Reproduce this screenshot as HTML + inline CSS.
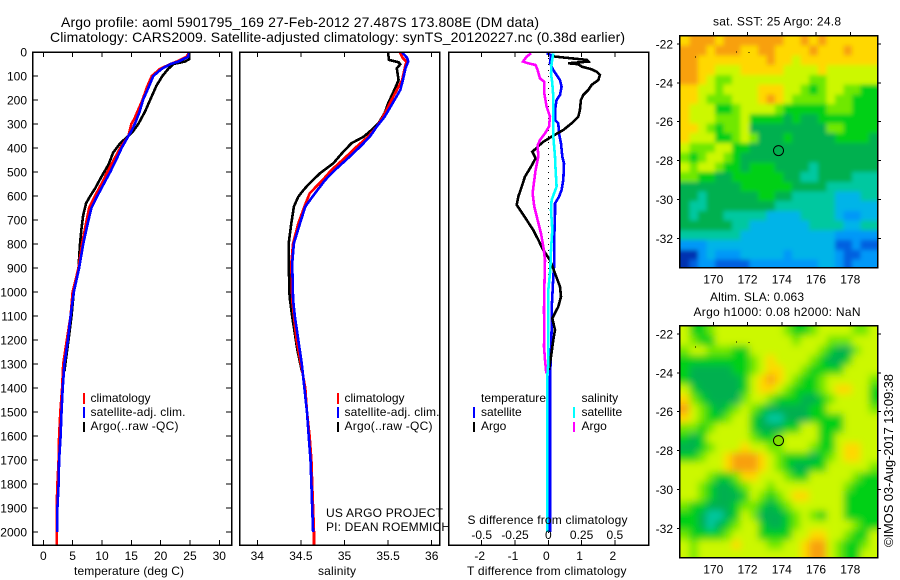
<!DOCTYPE html>
<html>
<head>
<meta charset="utf-8">
<title>Argo profile</title>
<style>
html,body{margin:0;padding:0;background:#fff;width:900px;height:580px;overflow:hidden}
svg{display:block}
text{font-family:"Liberation Sans",sans-serif;font-size:12px;fill:#000}
.t{font-size:14px}
.fr{fill:none;stroke:#000;stroke-width:1.5;shape-rendering:crispEdges}
.ln{fill:none;stroke-linejoin:miter;shape-rendering:crispEdges}
</style>
</head>
<body>
<svg id="fig" xmlns="http://www.w3.org/2000/svg" width="900" height="580" viewBox="0 0 900 580">
<defs>
<clipPath id="c1"><rect x="680" y="35" width="197" height="232"/></clipPath>
<clipPath id="c2"><rect x="680" y="325" width="197" height="232"/></clipPath>
<filter id="sm1" x="-10%" y="-10%" width="120%" height="120%"><feGaussianBlur stdDeviation="2"/></filter>
<filter id="sm2" x="-10%" y="-10%" width="120%" height="120%"><feGaussianBlur stdDeviation="3.6"/></filter>
</defs>
<text class="t" x="61" y="27" textLength="478">Argo profile: aoml 5901795_169 27-Feb-2012 27.487S 173.808E (DM data)</text>
<text class="t" x="50" y="42" textLength="575">Climatology: CARS2009. Satellite-adjusted climatology: synTS_20120227.nc (0.38d earlier)</text>

<g id="p1"></g>
<g id="p2"></g>
<g id="p3"></g>
<g clip-path="url(#c1)"><g id="m1" filter="url(#sm1)"></g></g>
<g clip-path="url(#c2)"><g id="m2" filter="url(#sm2)"></g></g>
<g id="mo"></g>

<rect class="fr" x="32.5" y="52" width="199" height="493"/>
<rect class="fr" x="239.5" y="52" width="200" height="493"/>
<rect class="fr" x="448.5" y="52" width="200" height="493"/>
<rect class="fr" x="679.5" y="35.5" width="198" height="232"/>
<rect class="fr" x="679.5" y="325.5" width="198" height="232"/>

<text x="74" y="575" textLength="110">temperature (deg C)</text>
<text x="318" y="575" textLength="38">salinity</text>
<text x="467.5" y="524" textLength="160">S difference from climatology</text>
<text x="467" y="575" textLength="159.500">T difference from climatology</text>

<g>
<rect x="83" y="393" width="2" height="11" fill="#f00"/>
<rect x="83" y="407" width="2" height="11" fill="#00f"/>
<rect x="83" y="422" width="2" height="10" fill="#000"/>
<text x="90.500" y="402">climatology</text>
<text x="90.500" y="416" textLength="95">satellite-adj. clim.</text>
<text x="90.500" y="430" textLength="88">Argo(..raw -QC)</text>
</g>
<g>
<rect x="337" y="393" width="2" height="11" fill="#f00"/>
<rect x="337" y="407" width="2" height="11" fill="#00f"/>
<rect x="337" y="422" width="2" height="10" fill="#000"/>
<text x="344.500" y="402">climatology</text>
<text x="344.500" y="416" textLength="95">satellite-adj. clim.</text>
<text x="344.500" y="430" textLength="88">Argo(..raw -QC)</text>
</g>
<g>
<text x="481" y="402" textLength="65">temperature</text>
<text x="581.500" y="402">salinity</text>
<rect x="473" y="407" width="2" height="11" fill="#00f"/>
<rect x="473" y="422" width="2" height="10" fill="#000"/>
<rect x="573" y="407" width="2" height="11" fill="#0ff"/>
<rect x="573" y="422" width="2" height="10" fill="#f0f"/>
<text x="481" y="416">satellite</text>
<text x="481" y="430">Argo</text>
<text x="581.500" y="416">satellite</text>
<text x="581.500" y="430">Argo</text>
</g>
<text x="326" y="517" textLength="117">US ARGO PROJECT</text>
<text x="326" y="531" textLength="124">PI: DEAN ROEMMICH</text>
<text x="713" y="25.500" textLength="128">sat. SST: 25 Argo: 24.8</text>
<text x="710" y="301" textLength="94">Altim. SLA: 0.063</text>
<text x="693.500" y="316" textLength="167">Argo h1000: 0.08 h2000: NaN</text>
<text style="font-size:13px" transform="translate(893,547) rotate(-90)" textLength="173">©IMOS 03-Aug-2017 13:09:38</text>
</svg>
<script>
// ---------- temperature profile data ----------
const argoTempDepth=[0,30,40,50,70,100,140,200,250,300,330,350,380,420,470,520,570,600,630,680,740,800,900,1000,1100,1200,1300,1330];
const argoTemp=[24.9,24.9,24.1,22.2,21.3,20.3,19.3,18.2,17.3,16.2,15.3,14.5,13.1,11.9,11.1,9.9,8.8,8,7.3,6.8,6.5,6.25,6,5.2,4.8,4.3,3.75,3.6];
const climTempDepth=[0,20,40,50,70,100,150,200,250,280,300,320,350,400,450,500,550,600,650,700,800,900,1000,1100,1200,1300,1400,1500,1600,1700,1800,1900,2054];
const climTemp=[24.9,24.4,22.7,21.7,19.9,18.5,17.6,16.9,16,15.5,15,14.8,14.5,13.1,12,10.9,9.9,8.8,7.8,7.4,6.6,6,5,4.66,4,3.4,3.2,2.9,2.7,2.6,2.4,2.27,2.27];
const satTempDepth=[0,20,40,50,70,100,150,200,250,300,330,350,400,450,500,550,600,650,700,800,900,1000,1100,1200,1300,1400,1500,1600,1700,1800,1900,2000];
const satTemp=[24.9,24.7,23,21.7,20.2,18.75,17.9,17,16.4,15.6,15,14.5,13.35,12.4,11.4,10.3,9.2,8.2,7.7,6.8,6.1,5.2,4.66,4.2,3.6,3.3,3.1,2.95,2.7,2.6,2.4,2.4];
// ---------- salinity profile data ----------
const argoSalDepth=[0,5,33,43,51,68,117,151,214,255,297,325,353,380,422,464,505,547,575,603,644,714,797,880,1019,1103,1172,1242,1311,1330];
const argoSal=[35.5,35.5,35.51,35.62,35.64,35.6,35.62,35.58,35.5,35.46,35.39,35.31,35.22,35.08,34.97,34.87,34.72,34.6,34.53,34.47,34.42,34.39,34.36,34.36,34.37,34.4,34.43,34.46,34.5,34.51];
const climSalDepth=[0,5,26,40,68,117,158,214,270,311,353,394,436,492,533,589,644,714,797,880,1033,1100,1200,1300,1400,1500,1600,1700,1800,1900,2000,2054];
const climSal=[35.64,35.64,35.67,35.71,35.69,35.66,35.6,35.52,35.44,35.37,35.27,35.14,35.02,34.85,34.75,34.6,34.54,34.47,34.41,34.39,34.4,34.42,34.45,34.5,34.55,34.57,34.6,34.62,34.63,34.64,34.65,34.65];
const satSalDepth=[0,5,26,40,68,117,158,214,270,311,353,394,436,492,533,589,644,714,797,880,1033,1100,1200,1300,1400,1500,1600,1700,1800,1900,2000];
const satSal=[35.67,35.67,35.72,35.73,35.7,35.67,35.64,35.55,35.46,35.37,35.29,35.18,35.06,34.89,34.78,34.66,34.55,34.49,34.42,34.4,34.41,34.43,34.47,34.51,34.54,34.57,34.59,34.61,34.62,34.63,34.64];
// ---------- difference data ----------
const argoDTDepth=[12,19,33,40,47,51,61,72,82,96,117,137,158,179,200,242,269,297,325,353,374,392,406,415,443,478,519,561,603,637,658,700,742,783,825,867,922,978,1019,1061,1110,1158,1200,1269,1325];
const argoDT=[0.1,0.2,1.15,1.2,0.6,0.9,1,1.3,1.45,1.55,1.5,1.3,1.2,1.05,0.98,0.95,0.9,0.7,0.45,0.1,-0.15,-0.3,-0.4,-0.48,-0.38,-0.52,-0.7,-0.8,-0.9,-0.95,-0.85,-0.65,-0.45,-0.3,-0.15,0.05,0.2,0.35,0.38,0.3,0.12,0.2,0.15,0.08,0.02];
const satDTDepth=[6,12,47,75,96,117,144,179,200,242,283,297,339,381,436,464,533,575,603,631,672,769,881,936,1019,1075,1158,1297,1353,2000];
const satDT=[-0.05,0.08,0.05,0.15,0.25,0.35,0.4,0.35,0.25,0.2,0.2,0.3,0.32,0.38,0.42,0.47,0.45,0.4,0.32,0.2,0.2,0.18,0.18,0.15,0.12,0.1,0.1,0.07,0.05,0.05];
const argoDSDepth=[6,19,40,47,54,75,110,124,172,228,269,311,339,367,388,436,492,533,589,644,700,756,811,867,992,1075,1158,1228,1283,1339];
const argoDS=[-0.13,-0.1625,-0.19,-0.15,-0.095,-0.08,-0.0625,-0.03,-0.03,-0.0125,0.0125,0.005,-0.025,-0.0625,-0.08,-0.075,-0.095,-0.105,-0.1175,-0.105,-0.08,-0.055,-0.0375,-0.025,-0.03,-0.0325,-0.03,-0.0325,-0.025,-0.015];
const satDSDepth=[6,47,89,131,186,269,353,436,492,561,617,658,742,825,908,992,1103,1297,1353,2000];
const satDS=[0.0375,0.025,0.02,0.03,0.0375,0.0375,0.0375,0.05,0.055,0.0625,0.025,0.02,0.03,0.02,0.015,0,0,0,-0.0075,-0.0075];
// ---------- tick labels ----------
const depthTicks=[0,100,200,300,400,500,600,700,800,900,1000,1100,1200,1300,1400,1500,1600,1700,1800,1900,2000];
const tempTicks=[0,5,10,15,20,25,30];
const salTicks=[34,34.5,35,35.5,36];
const dTTicks=[-2,-1,0,1,2];
const dSTicks=[-0.5,-0.25,0,0.25,0.5];
const lonTicks=[170,172,174,176,178];
const latTicks=[-22,-24,-26,-28,-30,-32];
// ---------- map data: colour-level per 0.5 degree cell ----------
const sstGrid=[
[9,10,10,10,9,10,10,10,10,10,10,10,9,9,10,9,10,9,9,9,9,9,9],
[10,10,10,9,10,10,10,9,9,10,10,9,9,9,9,10,9,9,9,10,9,9,9],
[10,10,9,9,9,9,9,9,9,9,10,9,9,8,9,9,9,9,9,9,9,9,9],
[10,10,9,9,8,8,8,9,9,9,9,9,8,8,8,8,9,8,8,8,8,8,8],
[10,10,9,8,7,7,8,8,8,8,8,8,8,8,8,7,7,8,8,8,8,8,8],
[9,9,8,8,7,8,8,8,8,9,9,9,8,8,7,6,7,8,8,7,7,6,6],
[9,9,8,7,7,7,8,8,8,9,10,9,8,7,7,7,7,8,7,7,6,6,6],
[9,8,8,8,6,6,7,8,8,8,8,7,6,6,6,6,6,7,7,7,6,6,6],
[9,8,8,8,7,7,7,8,6,6,6,6,5,6,5,5,6,6,6,6,6,6,6],
[9,9,8,7,6,7,7,8,5,5,5,5,5,5,5,5,5,7,7,6,6,6,6],
[9,8,8,8,6,6,7,8,7,5,5,5,6,5,5,5,5,5,6,6,6,6,5],
[8,7,7,7,8,8,6,6,5,5,5,5,5,5,5,5,5,5,5,5,5,5,5],
[7,6,7,8,8,7,6,5,5,5,5,5,5,5,5,5,5,5,5,5,5,5,5],
[8,7,8,8,7,6,6,5,6,6,6,5,5,5,5,4,5,5,5,5,5,5,5],
[7,7,6,6,5,5,6,6,6,6,6,6,5,5,4,4,5,5,5,5,4,4,4],
[5,5,5,5,5,5,5,6,6,6,6,6,6,5,5,5,5,4,4,4,4,4,4],
[5,5,4,5,5,5,5,5,5,6,6,5,5,4,4,4,4,4,3,3,3,4,4],
[5,4,4,5,5,5,5,5,5,5,5,4,4,4,4,4,4,4,3,3,3,3,3],
[5,4,5,5,5,4,4,4,4,4,3,3,3,3,4,4,4,4,3,2,2,3,3],
[5,5,5,5,5,5,4,4,3,3,3,3,3,3,3,4,4,4,4,3,3,4,4],
[4,4,4,4,4,4,4,3,3,3,3,3,3,3,3,3,3,3,2,2,2,2,2],
[2,2,2,3,3,3,3,3,3,3,3,3,3,3,3,3,3,3,1,1,2,1,1],
[0,0,2,3,2,2,2,3,3,3,3,3,2,3,3,3,3,3,2,1,1,2,2],
[0,1,2,2,1,1,1,1,2,2,2,2,2,2,2,2,3,3,2,1,2,2,2]];
const slaGrid=[
[8,6,6,7,8,8,8,8,8,8,8,8,7,6,6,7,8,8,8,8,7,7,8],
[8,7,6,6,8,8,8,8,8,8,8,8,8,7,8,8,8,7,7,7,8,8,8],
[7,8,8,7,7,7,6,6,8,8,8,8,8,8,8,8,7,6,5,5,7,8,8],
[6,6,6,6,6,6,6,6,7,8,9,8,8,8,8,7,6,5,5,6,8,8,8],
[6,5,5,5,5,5,6,6,7,8,9,9,8,8,7,6,6,6,6,8,8,8,8],
[6,5,5,5,5,5,5,6,8,9,10,9,8,7,6,6,7,8,8,8,8,8,7],
[8,6,5,5,5,5,5,6,8,9,9,8,7,6,6,6,7,8,9,9,8,8,6],
[9,7,6,5,5,5,5,7,8,8,7,6,6,6,5,5,6,7,8,8,8,8,6],
[10,8,7,6,5,6,7,8,7,6,5,5,5,5,5,6,6,8,8,8,8,8,7],
[9,8,7,6,6,7,8,8,6,5,4,4,5,5,5,6,6,6,6,8,8,8,8],
[7,7,6,7,8,8,8,8,6,5,5,5,6,6,8,8,6,6,6,8,8,8,8],
[6,5,6,8,8,8,8,8,7,6,6,7,8,8,8,8,6,6,8,8,8,8,8],
[5,5,6,7,8,8,8,9,8,8,7,7,8,8,8,7,6,6,8,9,9,8,8],
[6,6,7,8,8,9,10,10,10,9,8,7,6,6,6,5,6,7,8,9,9,8,8],
[8,8,8,8,8,9,10,10,10,9,8,7,6,5,5,6,6,8,8,8,8,8,7],
[8,8,8,7,6,6,7,9,9,8,8,8,7,6,6,8,8,8,8,8,7,6,6],
[8,8,7,6,5,5,6,7,8,8,7,8,8,8,8,8,8,8,8,7,6,6,6],
[8,8,7,6,5,5,5,6,8,7,6,7,8,9,9,8,8,8,8,6,6,6,6],
[7,6,6,5,5,5,6,7,7,6,5,6,7,8,8,8,8,8,8,6,6,6,6],
[6,6,5,4,4,5,6,8,7,5,5,5,6,7,8,7,6,8,8,6,6,6,6],
[6,6,5,4,5,6,7,8,8,6,5,5,6,7,8,8,8,8,8,8,7,6,6],
[7,6,6,6,6,7,8,8,8,6,6,6,6,8,8,9,9,8,8,7,6,6,8],
[8,7,8,8,8,8,9,8,8,8,7,7,8,8,9,10,10,8,7,6,6,7,8],
[8,7,8,8,8,8,8,8,8,8,8,8,8,8,9,10,10,8,7,6,6,8,8]];
const gridLon0=168.1;
const gridLat0=-21.59;
const gridStep=0.5;
const floatLon=173.808;
const floatLat=-27.487;
const mapDotLon=[168.92,171.33,172.07];
const mapDotLat=[-22.65,-22.39,-22.42];

// ---------- axis functions ----------
const yD=d=>52+0.24*d;
const xT=v=>43.3+5.867*v;
const xS=v=>257.3+87.2*(v-34);
const xDT=v=>548.3+33.3*v;
const xDS=v=>xDT(4*v);
const lonX=v=>713.3+(v-170)*17.125;
const lat1=v=>44+(-22-v)*19.43;
const lat2=v=>334+(-22-v)*19.43;
const NS='http://www.w3.org/2000/svg';
function mk(parent,tag,attrs,txt){
  const e=document.createElementNS(NS,tag);
  for(const k in attrs)e.setAttribute(k,attrs[k]);
  if(txt!==undefined)e.textContent=txt;
  parent.appendChild(e);
  return e;
}
const p1=document.getElementById('p1'),p2=document.getElementById('p2'),p3=document.getElementById('p3');
const m1=document.getElementById('m1'),m2=document.getElementById('m2'),mo=document.getElementById('mo');

function line(parent,xf,vals,depths,color,name,w){
  const pts=vals.map((v,i)=>xf(v).toFixed(1)+','+yD(depths[i]).toFixed(1)).join(' ');
  const e=mk(parent,'polyline',{class:'ln',points:pts,stroke:color,'stroke-width':w||2.6});
  
  
}
function tick(parent,x1,y1,x2,y2){
  const e=mk(parent,'line',{x1:x1,y1:y1,x2:x2,y2:y2,stroke:'#000','stroke-width':1,'shape-rendering':'crispEdges'});
  
  
}
function label(parent,x,y,s,anchor){
  const e=mk(parent,'text',{x:x,y:y,'text-anchor':anchor||'middle'},String(s));
  
  
}
// series
line(p1,xT,argoTemp,argoTempDepth,'#000','temperature-argo-line');
line(p1,xT,climTemp,climTempDepth,'#f00','temperature-climatology-line');
line(p1,xT,satTemp,satTempDepth,'#00f','temperature-satellite-line');
line(p2,xS,argoSal,argoSalDepth,'#000','salinity-argo-line');
line(p2,xS,climSal,climSalDepth,'#f00','salinity-climatology-line');
line(p2,xS,satSal,satSalDepth,'#00f','salinity-satellite-line');
const zero=mk(p3,'line',{x1:xDT(0),y1:yD(0),x2:xDT(0),y2:yD(2054),stroke:'#000','stroke-width':1,'stroke-dasharray':'1 5','shape-rendering':'crispEdges'});


line(p3,xDT,satDT,satDTDepth,'#00f','t-diff-satellite-line');
line(p3,xDT,argoDT,argoDTDepth,'#000','t-diff-argo-line');
line(p3,xDS,argoDS,argoDSDepth,'#f0f','s-diff-argo-line');
line(p3,xDS,satDS,satDSDepth,'#0ff','s-diff-satellite-line');
// axes
depthTicks.forEach(d=>{
  tick(p1,33,yD(d),38,yD(d));
  tick(p1,226,yD(d),231,yD(d));
  label(p1,27,yD(d)+4.5,d,'end');
});
tempTicks.forEach(v=>{
  tick(p1,xT(v),52,xT(v),57);
  tick(p1,xT(v),540,xT(v),545);
  label(p1,xT(v),560,v);
});
salTicks.forEach(v=>{
  tick(p2,xS(v),52,xS(v),57);
  tick(p2,xS(v),540,xS(v),545);
  label(p2,xS(v),560,v);
});
dTTicks.forEach(v=>{
  tick(p3,xDT(v),52,xDT(v),57);
  tick(p3,xDT(v),540,xDT(v),545);
  label(p3,xDT(v)-2,560,v);
});
dSTicks.forEach(v=>{
  label(p3,xDS(v),539,v);
});
// maps
const palette=['#0030b0','#0060e0','#0098f8','#00b4e8','#00c8a0','#00b050','#00d018','#70e800','#ccf800','#ffd800','#f8a010'];
function drawGrid(parent,grid,latf,name){
  const nr=grid.length,nc=grid[0].length,over=12;
  grid.forEach((row,r)=>row.forEach((v,c)=>{
    let x=lonX(gridLon0+gridStep*c),y=latf(gridLat0-gridStep*r);
    let w=gridStep*17.125+0.6,h=gridStep*19.43+0.6;
    if(c===0){x-=over;w+=over;}
    if(c===nc-1){w+=over;}
    if(r===0){y-=over;h+=over;}
    if(r===nr-1){h+=over;}
    const e=mk(parent,'rect',{x:x.toFixed(1),y:y.toFixed(1),width:w.toFixed(1),height:h.toFixed(1),fill:palette[v],'shape-rendering':'crispEdges'});
    
    
  }));
}
drawGrid(m1,sstGrid,lat1,'sst-cell');
drawGrid(m2,slaGrid,lat2,'sla-cell');
[lat1,lat2].forEach(f=>{
  const top=f===lat1?35:325,bot=top+232;
  lonTicks.forEach(v=>{
    tick(mo,lonX(v),top-3,lonX(v),top);
    label(mo,lonX(v),bot+16.5,v);
  });
  latTicks.forEach(v=>{
    tick(mo,677,f(v),680,f(v));
    tick(mo,878,f(v),881,f(v));
    label(mo,673,f(v)+4.5,v,'end');
  });
  mapDotLon.forEach((lon,i)=>{
    const d=mk(mo,'rect',{x:lonX(lon),y:f(mapDotLat[i]),width:1,height:1,fill:'#000','shape-rendering':'crispEdges'});
    
    
  });
  const circ=mk(mo,'circle',{cx:lonX(floatLon),cy:f(floatLat),r:5,fill:f===lat1?'none':'#80e000',stroke:'#000','stroke-width':1});
  
  
});
</script>
</body>
</html>
